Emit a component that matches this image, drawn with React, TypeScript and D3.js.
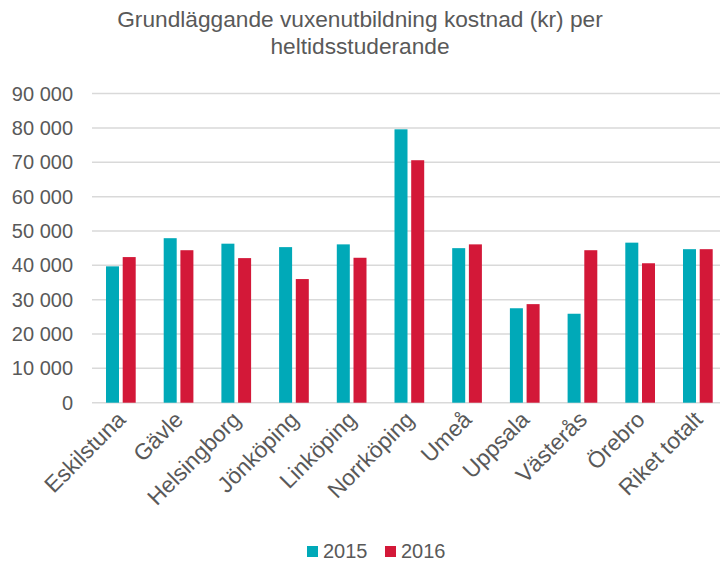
import React from "react";
import * as d3 from "d3";

const categories = ["Eskilstuna", "Gävle", "Helsingborg", "Jönköping", "Linköping", "Norrköping", "Umeå", "Uppsala", "Västerås", "Örebro", "Riket totalt"];
const values2015 = [39700, 47900, 46300, 45300, 46100, 79600, 45000, 27500, 25900, 46600, 44700];
const values2016 = [42400, 44400, 42100, 36000, 42200, 70600, 46100, 28700, 44400, 40600, 44700];
const seriesNames = ["2015", "2016"];
const yTicks = [0, 10000, 20000, 30000, 40000, 50000, 60000, 70000, 80000, 90000];
const titleLines = ["Grundläggande vuxenutbildning kostnad (kr) per", "heltidsstuderande"];

const colors = ["#00A9B8", "#D31838"];
const textColor = "#595959";
const font = "'Liberation Sans', Arial, sans-serif";

export default function App() {
  const W = 720, H = 561;
  const x0 = 92, x1 = 92 + 11 * 57.7;
  const yTop = 93.6, yBot = 402.7;
  const x = d3.scaleBand().domain(categories).range([x0, x1]).paddingInner(0).paddingOuter(0);
  const y = d3.scaleLinear().domain([0, 90000]).range([yBot, yTop]);
  const barW = 13;
  const gap = 3.7;
  const fmt = (v: number) => (v === 0 ? "0" : d3.format(",")(v).replace(/,/g, " "));
  const series = [values2015, values2016];

  return (
    <svg width={W} height={H} style={{ position: "absolute", left: 0, top: 0, background: "#fff" }} fontFamily={font}>
      <rect x={0} y={0} width={W} height={H} fill="#fff" />
      {titleLines.map((t, i) => (
        <text key={i} x={360} y={26.5 + i * 27} textAnchor="middle" fontSize={22.7} fill={textColor}>{t}</text>
      ))}
      {yTicks.map((t) => (
        <g key={t}>
          <line x1={x0} x2={W} y1={y(t)} y2={y(t)} stroke="#D9D9D9" strokeWidth={1.5} />
          <text x={73} y={y(t) + 7} textAnchor="end" fontSize={20} fill={textColor}>{fmt(t)}</text>
        </g>
      ))}
      {categories.map((c, i) => {
        const cx = (x(c) as number) + x.bandwidth() / 2;
        return (
          <g key={c}>
            {series.map((s, k) => {
              const bx = k === 0 ? cx - gap / 2 - barW : cx + gap / 2;
              return <rect key={k} x={bx} y={y(s[i])} width={barW} height={y(0) - y(s[i])} fill={colors[k]} />;
            })}
            <text transform={`translate(${cx + 6},${421}) rotate(-45)`} textAnchor="end" fontSize={22.7} fill={textColor}>{c}</text>
          </g>
        );
      })}
      {seriesNames.map((n, k) => {
        const lx = k === 0 ? 307 : 385;
        return (
          <g key={n}>
            <rect x={lx} y={546} width={11} height={11} fill={colors[k]} />
            <text x={lx + 16} y={557.5} fontSize={20} fill={textColor}>{n}</text>
          </g>
        );
      })}
    </svg>
  );
}
